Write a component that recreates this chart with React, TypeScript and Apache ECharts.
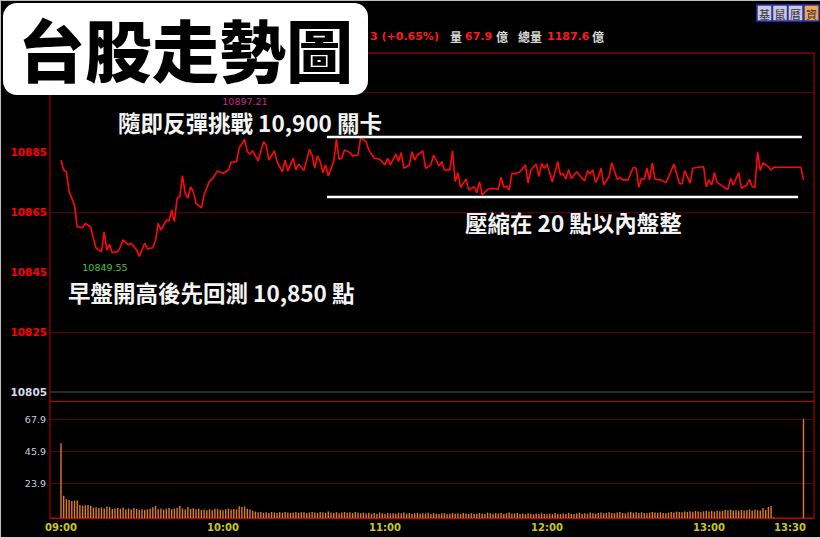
import React, { useEffect, useRef } from "react";
import * as echarts from "echarts";

// ---- price path: [minutes after 09:00, index value] ----
const priceOpen: number[][] = [
  [0, 10882.3], [1, 10879.0], [2, 10878.4], [3, 10871.8], [5, 10867.3], [6, 10860.1], [8, 10859.8], [9, 10861.2],
  [11, 10860.0], [12, 10856.2], [13, 10852.9], [15, 10851.8], [16, 10858.4], [17, 10852.3], [18, 10854.2], [19, 10851.4],
  [21, 10851.8], [22, 10853.4], [23, 10855.7], [25, 10854.0], [26, 10854.6], [28, 10852.3], [29, 10850.2], [31, 10854.6],
  [32, 10852.7], [34, 10853.1], [35, 10855.4], [36, 10861.2], [37, 10859.0], [39, 10862.3], [40, 10862.0], [41, 10865.7],
  [42, 10861.8], [43, 10869.6], [44, 10870.1], [45, 10877.1], [46, 10871.2], [47, 10869.6], [48, 10873.4], [49, 10871.8],
  [50, 10867.9], [52, 10866.4], [53, 10870.7], [55, 10875.3], [56, 10876.0], [58, 10878.7], [60, 10877.9], [62, 10879.0],
  [63, 10881.6], [65, 10881.8], [66, 10886.4], [68, 10889.2],
];
const priceMorning: number[][] = [
  [69, 10885.1], [70, 10884.3], [71, 10885.4], [73, 10882.0], [75, 10888.4], [76, 10887.3], [77, 10882.3], [79, 10885.4],
  [80, 10881.8], [82, 10878.4], [83, 10882.3], [84, 10878.7], [86, 10882.9], [87, 10879.0], [88, 10881.0], [90, 10878.8],
  [92, 10885.9], [93, 10884.0], [94, 10879.6], [95, 10883.7], [96, 10881.8], [97, 10878.1], [98, 10880.7], [99, 10877.0],
  [101, 10881.8], [102, 10889.2], [103, 10882.6], [104, 10882.9], [105, 10885.7], [107, 10884.8], [108, 10883.7], [110, 10884.0],
  [111, 10889.9], [113, 10888.4], [114, 10885.7], [116, 10882.9], [118, 10882.6], [120, 10880.7], [121, 10882.9], [122, 10880.7],
  [124, 10884.3], [125, 10881.8], [126, 10884.8], [127, 10879.6], [129, 10880.6], [130, 10885.1], [131, 10882.3], [132, 10884.0],
  [134, 10885.4], [135, 10879.6], [137, 10880.7], [138, 10884.0], [140, 10880.3], [141, 10881.8], [142, 10879.0], [144, 10879.0],
  [145, 10885.4],
];
const priceMidday: number[][] = [
  [146, 10875.1], [147, 10878.1], [148, 10873.2], [150, 10875.9], [151, 10872.3], [153, 10873.4], [154, 10871.4], [155, 10875.1],
  [156, 10870.7], [158, 10872.6], [160, 10872.9], [162, 10872.6], [163, 10876.6], [164, 10873.2], [165, 10873.7], [166, 10872.3],
  [167, 10877.9], [168, 10877.7], [170, 10878.4], [172, 10880.7], [173, 10874.6], [174, 10879.0], [176, 10881.0], [177, 10876.8],
  [178, 10881.2], [179, 10879.6], [180, 10881.0], [182, 10875.1], [184, 10881.8], [185, 10877.3], [186, 10877.9], [187, 10875.9],
  [188, 10879.2], [189, 10876.2], [191, 10878.4], [193, 10876.2], [194, 10875.4], [195, 10878.8], [196, 10877.7], [197, 10879.0],
  [198, 10874.8], [199, 10876.6], [200, 10879.6], [201, 10874.0], [203, 10876.8], [204, 10881.4], [206, 10875.9], [207, 10876.6],
  [208, 10875.7], [210, 10875.7],
];
const priceAfternoon: number[][] = [
  [212, 10879.9], [213, 10879.6], [214, 10873.2], [215, 10876.2], [216, 10875.9], [217, 10879.6], [218, 10875.7], [219, 10881.4],
  [220, 10875.9], [222, 10875.7], [224, 10874.8], [225, 10876.6], [227, 10881.0], [229, 10874.6], [230, 10874.3], [231, 10878.8],
  [233, 10874.6], [234, 10879.6], [236, 10879.9], [238, 10880.1], [239, 10873.4], [240, 10875.7], [241, 10874.0], [242, 10878.1],
  [243, 10874.8], [245, 10873.7], [246, 10872.9], [247, 10872.6], [248, 10876.2], [249, 10874.0], [251, 10878.1], [252, 10872.9],
  [254, 10874.0], [255, 10875.9], [256, 10873.4], [257, 10873.2], [258, 10885.1], [259, 10878.8], [260, 10881.4], [262, 10880.1],
  [263, 10879.0], [264, 10879.9], [274, 10879.9], [275, 10875.7],
];

// ---- per-minute volume (億), starting at 09:00 ----
const volumeMinutes: number[] = [
  51.3, 15.3, 12.9, 12.4, 11.7, 11.9, 12.1, 9.0, 8.5, 8.7,
  8.9, 8.3, 7.1, 7.4, 6.8, 7.2, 6.6, 7.9, 7.5, 6.2,
  6.5, 6.9, 6.4, 7.2, 5.9, 6.6, 5.8, 6.9, 6.2, 5.7,
  6.0, 5.6, 5.9, 6.3, 7.4, 8.2, 6.0, 6.6, 5.8, 6.3,
  6.8, 6.0, 6.4, 7.0, 8.2, 6.5, 5.9, 7.6, 6.2, 6.7,
  6.0, 6.4, 5.5, 5.9, 5.4, 6.0, 5.3, 6.3, 6.1, 5.7,
  5.4, 6.1, 6.4, 5.8, 6.2, 5.9, 8.1, 7.6, 7.9, 6.4,
  5.8, 4.9, 4.4, 3.9, 4.2, 3.6, 3.9, 3.5, 4.1, 3.7,
  3.4, 4.0, 3.6, 4.2, 3.8, 3.5, 3.8, 4.2, 3.6, 3.9,
  4.0, 3.4, 3.8, 4.1, 3.7, 3.5, 4.2, 3.9, 3.6, 4.4,
  3.8, 3.5, 4.0, 3.3, 3.7, 4.1, 3.6, 3.9, 3.4, 4.2,
  3.8, 3.3, 3.7, 3.1, 3.6, 2.9, 3.4, 3.0, 3.8, 3.2,
  2.8, 3.5, 3.1, 3.3, 2.9, 3.6, 3.2, 3.7, 3.0, 3.4,
  2.7, 3.2, 3.5, 2.9, 3.3, 3.1, 3.6, 2.8, 3.4, 3.0,
  2.7, 3.1, 3.3, 2.6, 3.0, 3.4, 2.9, 3.2, 2.8, 3.5,
  3.1, 2.9, 3.3, 2.7, 3.0, 3.4, 3.1, 2.8, 3.6, 3.2,
  2.9, 3.3, 3.0, 3.5, 2.8, 3.2, 3.7, 2.9, 3.1, 3.4,
  2.8, 3.0, 2.6, 3.2, 2.9, 2.5, 3.1, 2.7, 3.3, 2.8,
  2.6, 3.0, 2.7, 3.4, 2.9, 2.6, 3.1, 2.8, 3.5, 3.0,
  2.7, 3.1, 3.6, 2.8, 3.3, 3.0, 3.7, 3.2, 2.9, 3.4,
  3.8, 3.3, 3.6, 4.0, 3.4, 3.2, 3.7, 4.1, 3.5, 3.1,
  3.8, 4.2, 3.6, 4.0, 3.4, 3.9, 3.5, 3.3, 3.7, 4.1,
  3.8, 3.6, 3.9, 3.5, 3.3, 3.7, 4.2, 3.8, 4.4, 4.1,
  3.9, 4.5, 4.2, 4.6, 4.3, 4.8, 4.4, 4.1, 4.6, 4.9,
  4.5, 4.8, 4.4, 5.0, 4.7, 4.9, 5.5, 5.3, 5.6, 5.2,
  5.4, 5.0, 5.5, 5.2, 5.4, 5.8, 5.1, 5.7, 5.3, 5.2,
  6.9, 5.5, 7.6, 8.2, 0.6,
];
const closingAuctionMinute = 275;
const closingAuctionVolume = 67.9;

// ---- axes / reference values ----
const priceLabelValues = [10805, 10825, 10845, 10865, 10885];
const priceGridValues = [10825, 10865, 10905];
const prevCloseValue = 10805;
const volumeLabelValues = [23.9, 45.9, 67.9];
const timeTickMinutes = [0, 60, 120, 180, 240, 270];
const rangeHigh = 10890;
const rangeLow = 10870;
const rangeStart = 98.5;
const rangeHighEnd = 274.4;
const rangeLowEnd = 273;

const X_MIN = -4.074;
const X_MAX = 278.89;
const CJK = '"Noto Sans CJK TC", "Noto Sans CJK SC", sans-serif';
const NUM = '"DejaVu Sans", Verdana, sans-serif';

const pad = (n: number) => String(n).padStart(2, "0");
const fmtTime = (v: number) => {
  const m = Math.round(Number(v));
  return `${pad(9 + Math.floor(m / 60))}:${pad(m % 60)}`;
};

const pricePoints = [...priceOpen, ...priceMorning, ...priceMidday, ...priceAfternoon];
const volumePoints = [
  ...volumeMinutes.map((v, i) => [i, v]),
  [closingAuctionMinute, closingAuctionVolume],
];

function txt(text: string, x: number, y: number, fill: string, font: string, align = "left", z = 100) {
  return {
    type: "text",
    x,
    y,
    z,
    silent: true,
    style: { text, fill, font, align, verticalAlign: "middle" },
  };
}

const buttons = [
  { label: "基", x: 757, fill: "#c9c9d9" },
  { label: "鼠", x: 772.5, fill: "#c9c9d9" },
  { label: "曆", x: 788, fill: "#c9c9d9" },
  { label: "資", x: 804, fill: "#f4a64c" },
];

const option: any = {
  animation: false,
  backgroundColor: "#000000",
  grid: [
    { left: 50, right: 6, top: 53, height: 348.5, show: true, borderColor: "#c40000", borderWidth: 1 },
    { left: 50, right: 6, top: 401.5, height: 116.5, show: true, borderColor: "#c40000", borderWidth: 1 },
  ],
  xAxis: [
    { type: "value", gridIndex: 0, min: X_MIN, max: X_MAX, show: false },
    {
      type: "value",
      gridIndex: 1,
      min: X_MIN,
      max: X_MAX,
      axisLine: { show: true, lineStyle: { color: "#d00000", width: 1 } },
      axisTick: { show: false },
      splitLine: { show: false },
      axisLabel: {
        customValues: timeTickMinutes,
        formatter: fmtTime,
        color: "#c8c814",
        fontWeight: "bold",
        fontSize: 10,
        fontFamily: NUM,
        margin: 4,
      },
    },
  ],
  yAxis: [
    {
      type: "value",
      gridIndex: 0,
      min: 10801.83,
      max: 10918,
      axisLine: { show: false },
      axisTick: { show: false },
      splitLine: { show: false },
      axisLabel: {
        customValues: priceLabelValues,
        formatter: (v: number) => String(Math.round(Number(v))),
        color: (v: any) => (Math.round(Number(String(v).replace(/,/g, ""))) === prevCloseValue ? "#d4dcea" : "#ff0000"),
        fontWeight: "bold",
        fontSize: 10.5,
        fontFamily: NUM,
        margin: 3,
      },
    },
    {
      type: "value",
      gridIndex: 1,
      min: 0,
      max: 80,
      axisLine: { show: false },
      axisTick: { show: false },
      splitLine: { show: false },
      axisLabel: {
        customValues: volumeLabelValues,
        formatter: (v: number) => Number(v).toFixed(1),
        color: "#c8d0de",
        fontSize: 9.5,
        fontFamily: NUM,
        margin: 4,
      },
    },
  ],
  series: [
    {
      type: "line",
      xAxisIndex: 0,
      yAxisIndex: 0,
      data: pricePoints,
      showSymbol: false,
      symbol: "none",
      lineStyle: { color: "#ff0808", width: 1.6 },
      z: 3,
      markLine: {
        silent: true,
        symbol: ["none", "none"],
        label: { show: false },
        z: 1,
        data: [
          ...priceGridValues.map((v) => ({ yAxis: v, lineStyle: { color: "#5a0000", width: 1, type: "solid", opacity: 1 } })),
          { yAxis: prevCloseValue, lineStyle: { color: "#1c2e30", width: 2, type: "solid", opacity: 1 } },
        ],
      },
    },
    {
      type: "line",
      xAxisIndex: 0,
      yAxisIndex: 0,
      data: [[rangeStart, rangeHigh], [rangeHighEnd, rangeHigh]],
      showSymbol: false,
      symbol: "none",
      lineStyle: { color: "#ffffff", width: 2.5 },
      z: 4,
    },
    {
      type: "line",
      xAxisIndex: 0,
      yAxisIndex: 0,
      data: [[rangeStart, rangeLow], [rangeLowEnd, rangeLow]],
      showSymbol: false,
      symbol: "none",
      lineStyle: { color: "#ffffff", width: 2.5 },
      z: 4,
    },
    {
      type: "bar",
      xAxisIndex: 1,
      yAxisIndex: 1,
      data: volumePoints,
      barWidth: 1.4,
      itemStyle: { color: "#e07c22" },
      z: 3,
      markLine: {
        silent: true,
        symbol: ["none", "none"],
        label: { show: false },
        z: 1,
        data: volumeLabelValues.map((v) => ({ yAxis: v, lineStyle: { color: "#5a0000", width: 1, type: "solid", opacity: 1 } })),
      },
    },
  ],
  graphic: [
    // outer frame (top/left)
    { type: "line", z: 90, silent: true, shape: { x1: 0, y1: 0.5, x2: 820, y2: 0.5 }, style: { stroke: "#bdbdbd", lineWidth: 1 } },
    { type: "line", z: 90, silent: true, shape: { x1: 0.5, y1: 0, x2: 0.5, y2: 537 }, style: { stroke: "#bdbdbd", lineWidth: 1 } },
    // header quote line (partly hidden by the title box in the original)
    txt("3 (+0.65%)", 370, 36, "#ff1a1a", `bold 11px ${NUM}`),
    txt("量", 450, 36, "#d8d8d8", `bold 12px ${CJK}`),
    txt("67.9", 465, 36, "#ff1a1a", `bold 11px ${NUM}`),
    txt("億", 496, 36, "#d8d8d8", `bold 12px ${CJK}`),
    txt("總量", 518, 36, "#d8d8d8", `bold 12px ${CJK}`),
    txt("1187.6", 547, 36, "#ff1a1a", `bold 11px ${NUM}`),
    txt("億", 592, 36, "#d8d8d8", `bold 12px ${CJK}`),
    // small tab buttons
    ...buttons.flatMap((b) => [
      {
        type: "rect",
        z: 100,
        silent: true,
        shape: { x: b.x, y: 5, width: 15, height: 16 },
        style: { fill: b.fill, stroke: "#2a36a8", lineWidth: 1.5 },
      },
      txt(b.label, b.x + 7.5, 13.5, "#34344a", `11px ${CJK}`, "center", 101),
    ]),
    // title box
    {
      type: "rect",
      z: 100,
      silent: true,
      shape: { x: 3, y: 3, width: 365, height: 92, r: 14 },
      style: { fill: "#ffffff" },
    },
    txt("台股走勢圖", 185.5, 47, "#000000", `900 67px ${CJK}`, "center", 101),
    // high / low marks
    txt("10897.21", 245, 101, "#c8288e", `9.5px ${NUM}`, "center"),
    txt("10849.55", 105, 267, "#4cc04c", `9.5px ${NUM}`, "center"),
    // annotations
    txt("隨即反彈挑戰 10,900 關卡", 118, 122, "#f4f4f4", `bold 22.5px ${CJK}`),
    txt("早盤開高後先回測 10,850 點", 68, 292, "#f4f4f4", `bold 22.5px ${CJK}`),
    txt("壓縮在 20 點以內盤整", 465, 222, "#f4f4f4", `bold 22.5px ${CJK}`),
  ],
};

export default function App() {
  const ref = useRef<HTMLDivElement>(null);
  useEffect(() => {
    if (!ref.current) return;
    const chart = echarts.init(ref.current, undefined, { renderer: "svg" });
    chart.setOption(option);
    return () => chart.dispose();
  }, []);
  return (
    <div
      ref={ref}
      style={{ position: "fixed", left: 0, top: 0, width: 820, height: 537, background: "#000" }}
    />
  );
}
